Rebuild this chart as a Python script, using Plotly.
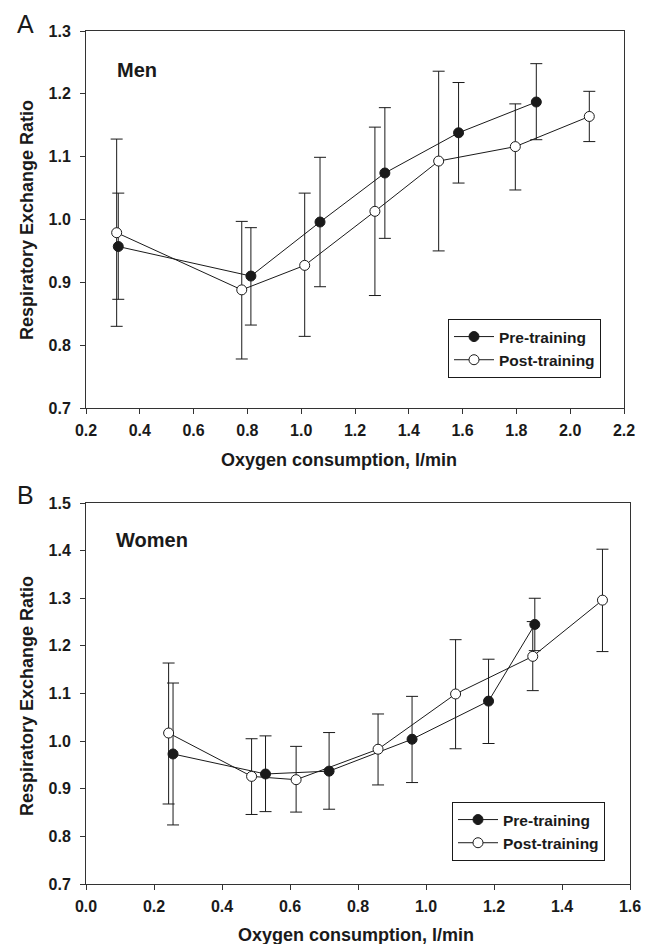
import plotly.graph_objects as go

W, H = 652, 944

# ---------------- data ----------------
men_pre_x = [0.32, 0.813, 1.07, 1.311, 1.585, 1.874]
men_pre_y = [0.957, 0.910, 0.996, 1.074, 1.138, 1.187]
men_pre_hi = [1.042, 0.987, 1.099, 1.178, 1.218, 1.248]
men_pre_lo = [0.873, 0.832, 0.893, 0.970, 1.058, 1.127]

men_post_x = [0.314, 0.779, 1.013, 1.274, 1.511, 1.796, 2.071]
men_post_y = [0.979, 0.888, 0.927, 1.013, 1.093, 1.116, 1.164]
men_post_hi = [1.128, 0.997, 1.042, 1.147, 1.236, 1.184, 1.204]
men_post_lo = [0.830, 0.778, 0.814, 0.879, 0.950, 1.047, 1.124]

women_pre_x = [0.256, 0.528, 0.715, 0.959, 1.184, 1.320]
women_pre_y = [0.973, 0.931, 0.937, 1.004, 1.084, 1.245]
women_pre_hi = [1.122, 1.011, 1.018, 1.094, 1.172, 1.300]
women_pre_lo = [0.824, 0.852, 0.857, 0.913, 0.995, 1.190]

women_post_x = [0.243, 0.487, 0.618, 0.859, 1.087, 1.314, 1.519]
women_post_y = [1.017, 0.926, 0.919, 0.983, 1.099, 1.178, 1.296]
women_post_hi = [1.164, 1.005, 0.989, 1.057, 1.213, 1.251, 1.403]
women_post_lo = [0.868, 0.846, 0.851, 0.908, 0.984, 1.106, 1.188]

series_names = ["Pre-training", "Post-training"]
x_title = "Oxygen consumption, l/min"
y_title = "Respiratory Exchange Ratio"
panel_labels = ["A", "B"]
group_labels = ["Men", "Women"]

FONT = "Liberation Sans, Arial, Helvetica, sans-serif"
INK = "#1a1a1a"


def px_x(p):
    return p / W


def px_y(p):
    return 1 - p / H


def err(y, hi, lo):
    return dict(type="data", symmetric=False,
                array=[h - v for v, h in zip(y, hi)],
                arrayminus=[v - l for v, l in zip(y, lo)],
                color=INK, thickness=1, width=6)


fig = go.Figure()

panels = [
    dict(xa="x", ya="y", legend="legend",
         pre=(men_pre_x, men_pre_y, men_pre_hi, men_pre_lo),
         post=(men_post_x, men_post_y, men_post_hi, men_post_lo)),
    dict(xa="x2", ya="y2", legend="legend2",
         pre=(women_pre_x, women_pre_y, women_pre_hi, women_pre_lo),
         post=(women_post_x, women_post_y, women_post_hi, women_post_lo)),
]

for p in panels:
    for key, name, fill in [("pre", series_names[0], INK), ("post", series_names[1], "white")]:
        x, y, hi, lo = p[key]
        fig.add_trace(go.Scatter(
            x=x, y=y, name=name, mode="lines+markers",
            xaxis=p["xa"], yaxis=p["ya"], legend=p["legend"],
            line=dict(color=INK, width=1),
            marker=dict(symbol="circle", size=10, color=fill,
                        line=dict(color=INK, width=1)),
            error_y=err(y, hi, lo),
        ))

axis_common = dict(
    showline=True, linecolor="#333333", linewidth=1, mirror=True,
    ticks="outside", ticklen=5, tickwidth=1, tickcolor="#333333",
    showgrid=False, zeroline=False, automargin=False,
    tickfont=dict(family=FONT, size=16, color=INK, weight="bold"),
    tickformat=".1f",
)
xtick = dict(ticklabelstandoff=3)
ytick = dict(ticklabelstandoff=6)

legend_common = dict(
    xanchor="left", yanchor="top",
    bgcolor="white", bordercolor=INK, borderwidth=1,
    font=dict(family=FONT, size=15.5, color=INK, weight="bold"),
    itemwidth=40, tracegroupgap=0,
    entrywidth=118, entrywidthmode="pixels",
)

fig.update_layout(
    width=W, height=H,
    margin=dict(l=0, r=0, t=0, b=0, pad=0, autoexpand=False),
    paper_bgcolor="white", plot_bgcolor="white",
    xaxis=dict(domain=[px_x(86), px_x(624)], anchor="y", range=[0.2, 2.2],
               dtick=0.2, tick0=0.2, **axis_common, **xtick),
    yaxis=dict(domain=[px_y(408), px_y(31)], anchor="x", range=[0.7, 1.3],
               dtick=0.1, tick0=0.7, **axis_common, **ytick),
    xaxis2=dict(domain=[px_x(86), px_x(630)], anchor="y2", range=[0.0, 1.6],
                dtick=0.2, tick0=0.0, **axis_common, **xtick),
    yaxis2=dict(domain=[px_y(884), px_y(503)], anchor="x2", range=[0.7, 1.5],
                dtick=0.1, tick0=0.7, **axis_common, **ytick),
    legend=dict(x=px_x(448), y=px_y(319), **legend_common),
    legend2=dict(x=px_x(452), y=px_y(802), **legend_common),
    showlegend=True,
)

annots = [
    # axis titles
    dict(text=x_title, x=px_x(339), y=px_y(460), size=18, bold=True, angle=0),
    dict(text=x_title, x=px_x(356), y=px_y(935), size=18, bold=True, angle=0),
    dict(text=y_title, x=px_x(27), y=px_y(220), size=18, bold=True, angle=-90),
    dict(text=y_title, x=px_x(27), y=px_y(696), size=18, bold=True, angle=-90),
    # panel letters
    dict(text=panel_labels[0], x=px_x(25.5), y=px_y(24), size=25, bold=False, angle=0),
    dict(text=panel_labels[1], x=px_x(25.5), y=px_y(495), size=25, bold=False, angle=0),
]
for a in annots:
    fig.add_annotation(
        text=a["text"], x=a["x"], y=a["y"], xref="paper", yref="paper",
        xanchor="center", yanchor="middle", showarrow=False, textangle=a["angle"],
        font=dict(family=FONT, size=a["size"], color=INK,
                  weight="bold" if a["bold"] else "normal"),
    )

# group labels (left-anchored)
for txt, xp, yp in [(group_labels[0], 115, 69.5), (group_labels[1], 114, 540)]:
    fig.add_annotation(
        text=txt, x=px_x(xp), y=px_y(yp), xref="paper", yref="paper",
        xanchor="left", yanchor="middle", showarrow=False,
        font=dict(family=FONT, size=20, color=INK, weight="bold"),
    )

fig.write_html(
    "out.html",
    config={"displayModeBar": False},
    post_script="document.body.style.margin='0';document.body.style.padding='0';"
                "document.body.style.overflow='hidden';",
)
